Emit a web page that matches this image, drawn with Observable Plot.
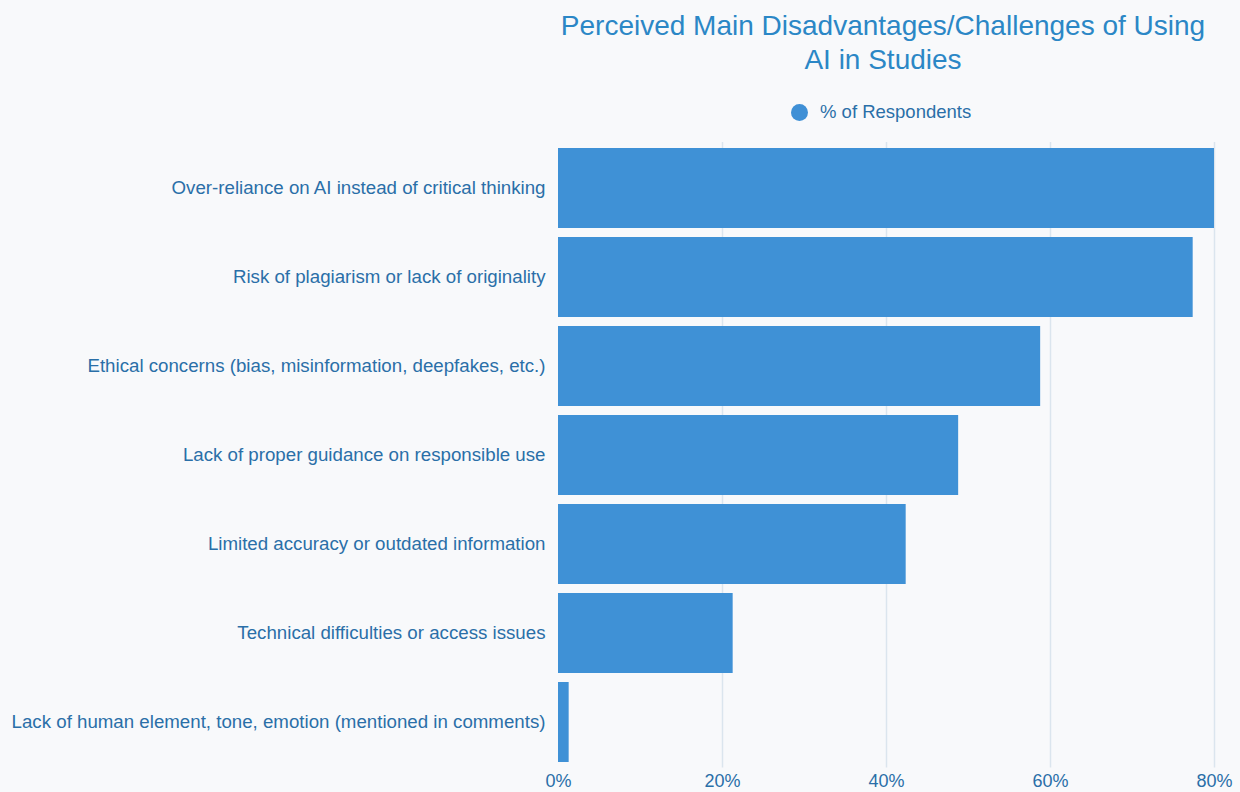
<!DOCTYPE html>
<html>
<head>
<meta charset="utf-8">
<script src="https://cdn.jsdelivr.net/npm/d3@7"></script>
<script src="https://cdn.jsdelivr.net/npm/@observablehq/plot@0.6"></script>
<style>
  html, body { margin: 0; padding: 0; background: #f8f9fb; width: 1240px; height: 792px; overflow: hidden; font-family: "Liberation Sans", Arial, sans-serif; }
  #header { position: absolute; left: 0; top: 0; width: 1240px; height: 135px; }
  #title { position: absolute; left: 483px; width: 800px; top: 9px; text-align: center; color: #2b87c6; font-size: 28px; line-height: 34px; }
  #legend { position: absolute; left: 791px; top: 101px; font-size: 18.5px; color: #2a6fa8; display: flex; align-items: center; height: 22px; }
  #legend .dot { width: 17px; height: 17px; border-radius: 50%; background: #3f90d6; margin-right: 12px; }
  #chart { position: absolute; left: 0; top: 134px; }
</style>
</head>
<body>
<div id="header">
  <div id="title">Perceived Main Disadvantages/Challenges of Using<br>AI in Studies</div>
  <div id="legend"><span class="dot"></span><span>% of Respondents</span></div>
</div>
<div id="chart"></div>
<script>
const categories = [
  "Over-reliance on AI instead of critical thinking",
  "Risk of plagiarism or lack of originality",
  "Ethical concerns (bias, misinformation, deepfakes, etc.)",
  "Lack of proper guidance on responsible use",
  "Limited accuracy or outdated information",
  "Technical difficulties or access issues",
  "Lack of human element, tone, emotion (mentioned in comments)"
];
const values = [80.0, 77.4, 58.8, 48.8, 42.4, 21.3, 1.3];
const xTicks = [0, 20, 40, 60, 80];

const data = categories.map((c, i) => ({category: c, value: values[i]}));

const chart = Plot.plot({
  width: 1240,
  height: 658,
  marginLeft: 558,
  marginRight: 26,
  marginTop: 8,
  marginBottom: 24.5,
  style: { background: "transparent", fontFamily: "'Liberation Sans', Arial, sans-serif", fontSize: "18.7px", color: "#2a6fa8", overflow: "visible" },
  x: { domain: [0, 80], ticks: xTicks, tickFormat: d => d + "%", label: null, tickSize: 0, tickPadding: 6 },
  y: { domain: categories, label: null, tickSize: 0, tickPadding: 13, paddingInner: 0.104, paddingOuter: 0.052 },
  marks: [
    Plot.axisX({ ticks: xTicks, tickFormat: d => d + "%", tickSize: 0, tickPadding: 6, fontSize: 18, label: null }),
    Plot.axisY({ tickSize: 0, tickPadding: 13, fontSize: 18.7, label: null }),
    Plot.ruleX(xTicks.slice(1), { stroke: "#dbe5ee", strokeWidth: 1.5 }),
    Plot.barX(data, { x: "value", y: "category", fill: "#3f91d6" })
  ]
});
document.getElementById("chart").appendChild(chart);
</script>
</body>
</html>
